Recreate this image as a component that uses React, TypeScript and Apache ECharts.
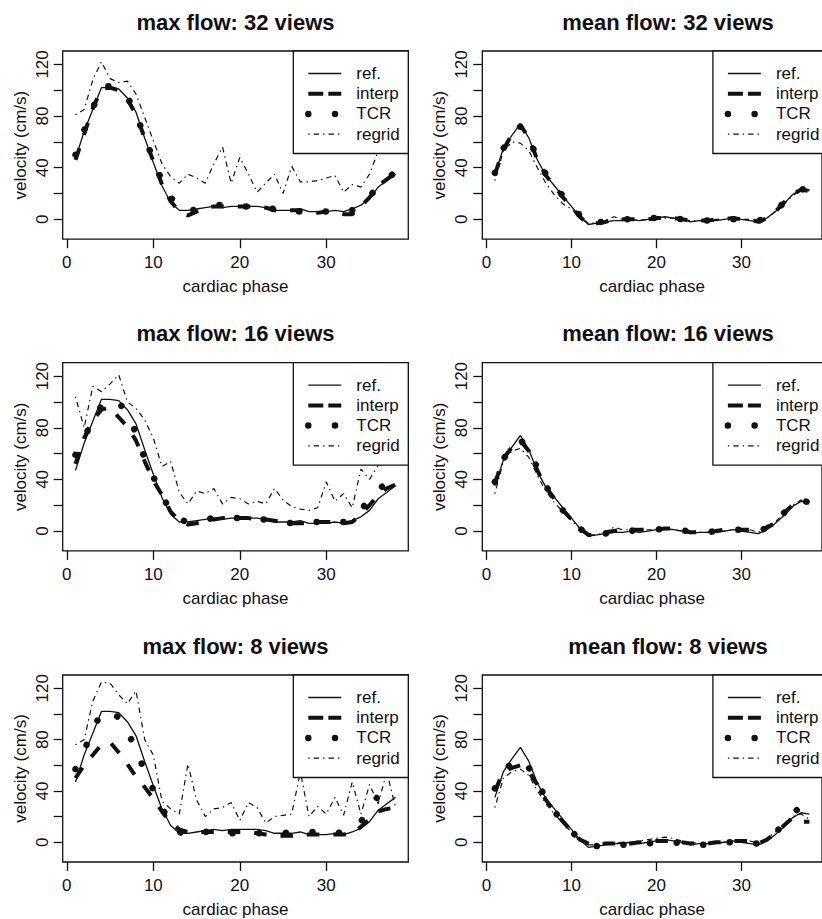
import React, { useEffect, useRef } from 'react';
import * as echarts from 'echarts';

// ---------- data ----------
const PHASES = [1, 2, 3, 4, 5, 6, 7, 8, 9, 10, 11, 12, 13, 14, 15, 16, 17, 18, 19, 20, 21, 22, 23, 24, 25, 26, 27, 28, 29, 30, 31, 32, 33, 34, 35, 36, 37, 38];

const X_TICKS = [0, 10, 20, 30];
const Y_TICKS = [0, 20, 40, 60, 80, 100, 120];
const Y_LABELS = [0, 40, 80, 120];

const SERIES_NAMES = ['ref.', 'interp', 'TCR', 'regrid'];

const refMax = [47, 68, 85, 102, 102, 101, 94, 83, 63, 44, 26, 13, 7, 7, 8, 9, 10, 9, 10, 10, 10, 10, 9, 7, 7, 7, 8, 6, 6, 6, 7, 6, 8, 11, 16, 25, 30, 35];
const refMean = [35, 55, 65, 74, 63, 46, 34, 26, 18, 10, 2, -4, -3, -2, -1, -1, 0, -1, 0, 1, 2, 1, 0, -2, -1, -1, -1, 0, 1, 0, -1, -2, 1, 6, 12, 19, 23, 22];

const max32Interp = [46, 66, 86, 101, 102, 100, 93, 81, 63, 45, 27, 14, 6, 3, 6, 9, 10, 10, 10, 10, 10, 10, 9, 7, 6, 7, 7, 5, 5, 6, 6, 4, 4, 10, 17, 26, 31, 36];
const max32Tcr = [50, 69, 86, 103, 103, 100, 95, 81, 64, 46, 30, 17, 9, 6, 8, 9, 11, 11, 10, 10, 10, 10, 9, 8, 7, 6, 6, 5, 6, 6, 6, 6, 7, 12, 18, 25, 31, 37];
const max32Regrid = [81, 85, 108, 122, 109, 106, 107, 97, 79, 61, 43, 33, 28, 35, 32, 28, 43, 56, 28, 48, 35, 21, 28, 35, 20, 41, 29, 29, 30, 32, 34, 21, 27, 25, 35, 53, 65, 70];

const max16Interp = [52, 72, 86, 94, 96, 88, 81, 70, 54, 39, 28, 15, 8, 5, 6, 8, 9, 10, 10, 10, 10, 9, 9, 8, 7, 6, 6, 6, 7, 7, 7, 6, 7, 13, 20, 28, 33, 36];
const max16Tcr = [59, 72, 86, 97, 102, 100, 90, 76, 56, 42, 28, 15, 9, 7, 8, 9, 10, 10, 10, 10, 10, 9, 9, 8, 7, 6, 6, 7, 7, 7, 7, 7, 10, 16, 25, 33, 36, 38];
const max16Regrid = [104, 80, 112, 108, 114, 121, 100, 95, 86, 72, 50, 54, 30, 21, 31, 29, 33, 21, 26, 25, 21, 23, 21, 33, 24, 19, 17, 16, 18, 38, 23, 29, 18, 48, 40, 51, 55, 50];

const max8Interp = [50, 60, 68, 76, 78, 70, 61, 51, 43, 34, 24, 15, 10, 8, 8, 8, 8, 8, 8, 8, 8, 7, 6, 5, 5, 5, 6, 6, 6, 6, 6, 6, 7, 12, 18, 24, 26, 27];
const max8Tcr = [57, 71, 89, 100, 103, 97, 86, 73, 55, 41, 27, 14, 8, 5, 6, 8, 9, 8, 7, 7, 7, 7, 7, 7, 7, 8, 8, 8, 8, 8, 7, 8, 11, 16, 27, 36, 43, 48];
const max8Regrid = [76, 80, 110, 125, 124, 115, 108, 118, 80, 68, 32, 26, 22, 61, 33, 20, 26, 27, 31, 17, 31, 27, 15, 20, 21, 22, 55, 20, 28, 22, 35, 21, 47, 22, 45, 30, 55, 27];

const mean32Interp = [35, 54, 66, 73, 63, 46, 34, 26, 17, 10, 2, -4, -3, -2, 0, 0, 0, 0, 0, 1, 1, 1, 0, -1, -1, -1, 0, 0, 1, 0, 0, -2, 1, 6, 13, 19, 23, 22];
const mean32Tcr = [36, 55, 65, 72, 63, 47, 35, 27, 18, 11, 3, -4, -3, -1, 0, 0, 0, 0, 1, 1, 2, 1, 0, -1, -1, -1, 0, 0, 0, 0, 0, -1, 1, 6, 13, 19, 23, 24];
const mean32Regrid = [30, 53, 60, 59, 53, 40, 28, 19, 12, 8, 2, -3, -3, -1, 2, 0, 0, -1, 0, 1, 1, 1, 0, -1, -1, -1, 0, 0, 0, 0, 0, -1, 1, 6, 12, 18, 23, 23];

const mean16Interp = [37, 56, 65, 70, 62, 47, 34, 25, 16, 9, 2, -3, -3, -1, 0, 1, 1, 1, 1, 1, 2, 2, 1, -1, -1, -1, 0, 1, 1, 1, 1, -1, 3, 6, 14, 20, 24, 22];
const mean16Tcr = [38, 56, 64, 71, 62, 49, 35, 25, 16, 9, 2, -3, -4, -2, -1, 0, 0, 1, 1, 1, 2, 2, 1, -1, -1, -1, 0, 0, 1, 1, 1, -1, 3, 6, 14, 20, 24, 22];
const mean16Regrid = [29, 54, 62, 64, 57, 43, 31, 22, 15, 8, 2, -3, -3, -1, 3, 1, 1, 1, 1, 1, 1, 1, 0, -1, -1, -1, 0, 0, 1, 1, 1, -1, 3, 7, 14, 20, 24, 22];

const mean8Interp = [40, 55, 58, 60, 55, 45, 33, 24, 16, 9, 2, -1, -2, -1, -1, -1, -1, 0, 0, 1, 1, 1, 0, -1, -1, -1, 0, 0, 1, 1, 1, -1, 2, 7, 13, 19, 16, 16];
const mean8Tcr = [42, 55, 62, 65, 58, 47, 34, 24, 16, 9, 1, -2, -3, -3, -2, -2, -2, -1, -1, 0, 0, 0, -1, -1, -2, -2, -1, 0, 0, -1, -1, -1, 3, 7, 15, 22, 28, 33];
const mean8Regrid = [27, 50, 55, 57, 52, 40, 30, 22, 15, 8, 1, -2, -2, -1, -1, 0, 0, 1, 2, 3, 4, 3, 1, 0, -1, -1, 0, 0, 1, 1, 1, -1, 3, 8, 14, 20, 22, 18];

const PANELS = [
  { title: 'max flow: 32 views', col: 0, row: 0, ref: refMax, interp: max32Interp, tcr: max32Tcr, regrid: max32Regrid },
  { title: 'mean flow: 32 views', col: 1, row: 0, ref: refMean, interp: mean32Interp, tcr: mean32Tcr, regrid: mean32Regrid },
  { title: 'max flow: 16 views', col: 0, row: 1, ref: refMax, interp: max16Interp, tcr: max16Tcr, regrid: max16Regrid },
  { title: 'mean flow: 16 views', col: 1, row: 1, ref: refMean, interp: mean16Interp, tcr: mean16Tcr, regrid: mean16Regrid },
  { title: 'max flow: 8 views', col: 0, row: 2, ref: refMax, interp: max8Interp, tcr: max8Tcr, regrid: max8Regrid },
  { title: 'mean flow: 8 views', col: 1, row: 2, ref: refMean, interp: mean8Interp, tcr: mean8Tcr, regrid: mean8Regrid },
];

// ---------- layout / style ----------
const FONT = '"Liberation Sans", Arial, Helvetica, sans-serif';
const INK = '#111';
const COL_LEFT = [62.7, 482.3];
const TITLE_X = [235.5, 668];
const ROW_TOP = [51, 362.7, 675];
const BOX_W = 345.6;
const BOX_H = 188.2;
const X_MIN = -0.48, X_MAX = 39.48;
const Y_MIN = -15.4, Y_MAX = 130.4;

const STYLES: any[] = [
  { width: 1.3, type: 'solid', cap: 'butt' },
  { width: 4, type: [12.5, 14], cap: 'butt' },
  { width: 6.5, type: [0.01, 26.7], cap: 'round' },
  { width: 1.2, type: [1.4, 4, 5.4, 4], cap: 'butt' },
];
const LEGEND_DASH: any[] = [null, [15, 5], [0.01, 26.7], [1.4, 4, 5.4, 4]];

function buildOption() {
  const grid: any[] = [];
  const xAxis: any[] = [];
  const yAxis: any[] = [];
  const series: any[] = [];
  const graphic: any[] = [];

  PANELS.forEach((p, i) => {
    const left = COL_LEFT[p.col];
    const top = ROW_TOP[p.row];
    grid.push({ left, top, width: BOX_W, height: BOX_H, show: true, borderColor: INK, borderWidth: 1.3, backgroundColor: 'transparent' });
    const labelStyle = { color: INK, fontSize: 17, fontFamily: FONT };
    xAxis.push({
      type: 'value', gridIndex: i, min: X_MIN, max: X_MAX,
      axisLine: { show: false, onZero: false },
      axisTick: { show: true, length: 9, lineStyle: { color: INK, width: 1.3 }, customValues: X_TICKS },
      axisLabel: { ...labelStyle, margin: 15, customValues: X_TICKS },
      splitLine: { show: false },
      name: 'cardiac phase', nameLocation: 'middle', nameGap: 39,
      nameTextStyle: { ...labelStyle },
    });
    yAxis.push({
      type: 'value', gridIndex: i, min: Y_MIN, max: Y_MAX,
      axisLine: { show: false, onZero: false },
      axisTick: { show: true, length: 9, lineStyle: { color: INK, width: 1.3 }, customValues: Y_TICKS },
      axisLabel: { ...labelStyle, margin: 12, rotate: 90, customValues: Y_LABELS },
      splitLine: { show: false },
      name: 'velocity (cm/s)', nameLocation: 'middle', nameGap: 34, nameRotate: 90,
      nameTextStyle: { ...labelStyle },
    });
    const vals = [p.ref, p.interp, p.tcr, p.regrid];
    vals.forEach((v, k) => {
      series.push({
        type: 'line', name: SERIES_NAMES[k], xAxisIndex: i, yAxisIndex: i,
        data: PHASES.map((x, j) => [x, v[j]]),
        symbol: 'none', showSymbol: false, silent: true, z: 2 + k,
        lineStyle: { color: INK, ...STYLES[k] },
      });
    });

    // title
    graphic.push({
      type: 'text', z: 50,
      style: {
        text: p.title, x: TITLE_X[p.col], y: top - 29,
        fill: INK, font: `bold 22px ${FONT}`,
        textAlign: 'center', textVerticalAlign: 'middle', align: 'center', verticalAlign: 'middle',
      },
    });

    // legend
    const lx = left + BOX_W - 115;
    const children: any[] = [
      { type: 'rect', shape: { x: lx, y: top, width: 115, height: 102.5 }, style: { fill: '#fff', stroke: INK, lineWidth: 1.3 }, z: 100 },
    ];
    SERIES_NAMES.forEach((name, k) => {
      const yy = top + 22.5 + k * 20.2;
      const st = STYLES[k];
      children.push({
        type: 'line', z: 101,
        shape: { x1: lx + 15, y1: yy, x2: lx + 48, y2: yy },
        style: { stroke: INK, lineWidth: st.width, lineDash: LEGEND_DASH[k], lineCap: st.cap },
      });
      children.push({
        type: 'text', z: 101,
        style: {
          text: name, x: lx + 63, y: yy, fill: INK, font: `17px ${FONT}`,
          textAlign: 'left', textVerticalAlign: 'middle', align: 'left', verticalAlign: 'middle',
        },
      });
    });
    graphic.push({ type: 'group', children, z: 100 });
  });

  return { animation: false, backgroundColor: '#fff', grid, xAxis, yAxis, series, graphic };
}

export default function App() {
  const ref = useRef<HTMLDivElement>(null);
  useEffect(() => {
    document.body.style.margin = '0';
    if (!ref.current) return;
    const chart = echarts.init(ref.current, undefined, { renderer: 'svg' });
    chart.setOption(buildOption());
    return () => chart.dispose();
  }, []);
  return <div ref={ref} style={{ position: 'absolute', left: 0, top: 0, width: 822, height: 919 }} />;
}
